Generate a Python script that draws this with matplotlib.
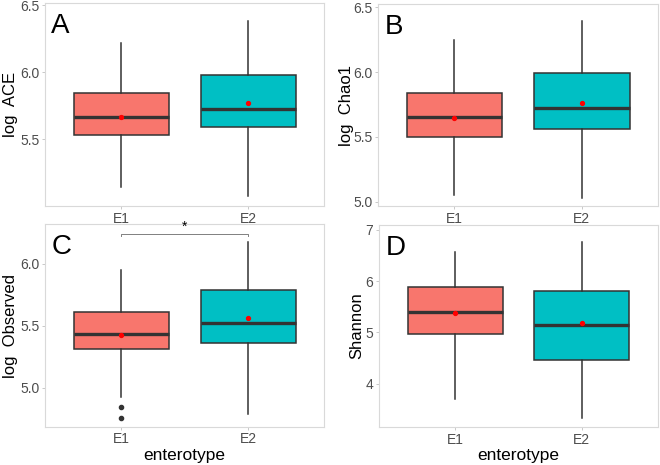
import matplotlib
matplotlib.use("Agg")
import matplotlib.pyplot as plt

plt.rcParams['font.family'] = ['Liberation Sans', 'DejaVu Sans']

groups = ['E1', 'E2']
fills = ['#F8766D', '#00BFC4']

# box statistics per panel: whislo, q1, med, q3, whishi, mean, outliers
ace_whislo = [5.142, 5.072]
ace_q1 = [5.532, 5.594]
ace_med = [5.664, 5.726]
ace_q3 = [5.848, 5.978]
ace_whishi = [6.216, 6.383]
ace_mean = [5.667, 5.771]

chao_whislo = [5.049, 5.030]
chao_q1 = [5.496, 5.561]
chao_med = [5.654, 5.726]
chao_q3 = [5.835, 5.995]
chao_whishi = [6.246, 6.393]
chao_mean = [5.646, 5.765]

obs_whislo = [4.927, 4.787]
obs_q1 = [5.313, 5.359]
obs_med = [5.437, 5.526]
obs_q3 = [5.609, 5.787]
obs_whishi = [5.951, 6.180]
obs_mean = [5.424, 5.561]
obs_fliers = [[4.846, 4.757], []]

sha_whislo = [3.697, 3.332]
sha_q1 = [4.973, 4.453]
sha_med = [5.391, 5.148]
sha_q3 = [5.891, 5.801]
sha_whishi = [6.574, 6.758]
sha_mean = [5.383, 5.188]

panels = [
    dict(letter='A', ylabel='log  ACE', lo=ace_whislo, q1=ace_q1, med=ace_med,
         q3=ace_q3, hi=ace_whishi, mean=ace_mean, fliers=[[], []],
         ylim=(5.0, 6.515), yticks=[5.5, 6.0, 6.5], fmt='{:.1f}'),
    dict(letter='B', ylabel='log  Chao1', lo=chao_whislo, q1=chao_q1, med=chao_med,
         q3=chao_q3, hi=chao_whishi, mean=chao_mean, fliers=[[], []],
         ylim=(4.967, 6.525), yticks=[5.0, 5.5, 6.0, 6.5], fmt='{:.1f}'),
    dict(letter='C', ylabel='log  Observed', lo=obs_whislo, q1=obs_q1, med=obs_med,
         q3=obs_q3, hi=obs_whishi, mean=obs_mean, fliers=obs_fliers,
         ylim=(4.685, 6.32), yticks=[5.0, 5.5, 6.0], fmt='{:.1f}'),
    dict(letter='D', ylabel='Shannon', lo=sha_whislo, q1=sha_q1, med=sha_med,
         q3=sha_q3, hi=sha_whishi, mean=sha_mean, fliers=[[], []],
         ylim=(3.145, 7.10), yticks=[4, 5, 6, 7], fmt='{:.0f}'),
]

# axes rectangles in figure fractions (660x465 px)
W, H = 660, 465
rects_px = [(45, 3.3, 324.3, 206), (378, 4, 658.3, 206),
            (45, 224.3, 324.3, 426.7), (379, 224.7, 658, 427.3)]
ylab_x = [-0.122, -0.114, -0.124, -0.08]

fig = plt.figure(figsize=(6.6, 4.65), dpi=100)

for i, p in enumerate(panels):
    l, t, r, b = rects_px[i]
    ax = fig.add_axes([l / W, 1 - b / H, (r - l) / W, (b - t) / H])
    stats = []
    for k in range(2):
        stats.append(dict(whislo=p['lo'][k], q1=p['q1'][k], med=p['med'][k],
                          q3=p['q3'][k], whishi=p['hi'][k],
                          fliers=p['fliers'][k], label=groups[k]))
    bp = ax.bxp(stats, positions=[1, 2], widths=0.75, patch_artist=True,
                showcaps=False,
                boxprops=dict(edgecolor='#333333', linewidth=1.1),
                whiskerprops=dict(color='#333333', linewidth=1.1),
                medianprops=dict(color='#333333', linewidth=2.4),
                flierprops=dict(marker='o', markerfacecolor='#333333',
                                markeredgecolor='#333333', markersize=3))
    for patch, c in zip(bp['boxes'], fills):
        patch.set_facecolor(c)
    ax.plot([1, 2], p['mean'], linestyle='none', marker='o', color='red',
            markersize=2.8, zorder=5)

    ax.set_xlim(0.4, 2.6)
    ax.set_ylim(*p['ylim'])
    ax.set_xticks([1, 2])
    ax.set_xticklabels(groups)
    ax.set_yticks(p['yticks'])
    ax.set_yticklabels([p['fmt'].format(v) for v in p['yticks']])
    ax.tick_params(axis='both', length=2, width=0.5, color='#B3B3B3',
                   pad=2, labelsize=10, labelcolor='#4D4D4D')
    for s in ax.spines.values():
        s.set_color('#D9D9D9')
        s.set_linewidth(0.8)

    ax.set_ylabel(p['ylabel'], fontsize=12, va='center')
    ax.yaxis.set_label_coords(ylab_x[i], 0.5)
    if i >= 2:
        ax.set_xlabel('enterotype', fontsize=12.5, labelpad=1)

    ax.text(0.023, 0.95, p['letter'], transform=ax.transAxes, fontsize=20,
            ha='left', va='top')

    if p['letter'] == 'C':
        yb, drop = 6.243, 0.02
        ax.plot([1, 1, 2, 2], [yb - drop, yb, yb, yb - drop], color='#808080',
                linewidth=0.7)
        ax.text(1.5, yb, '*', ha='center', va='bottom', fontsize=10)

fig.savefig('out.png', dpi=100)
